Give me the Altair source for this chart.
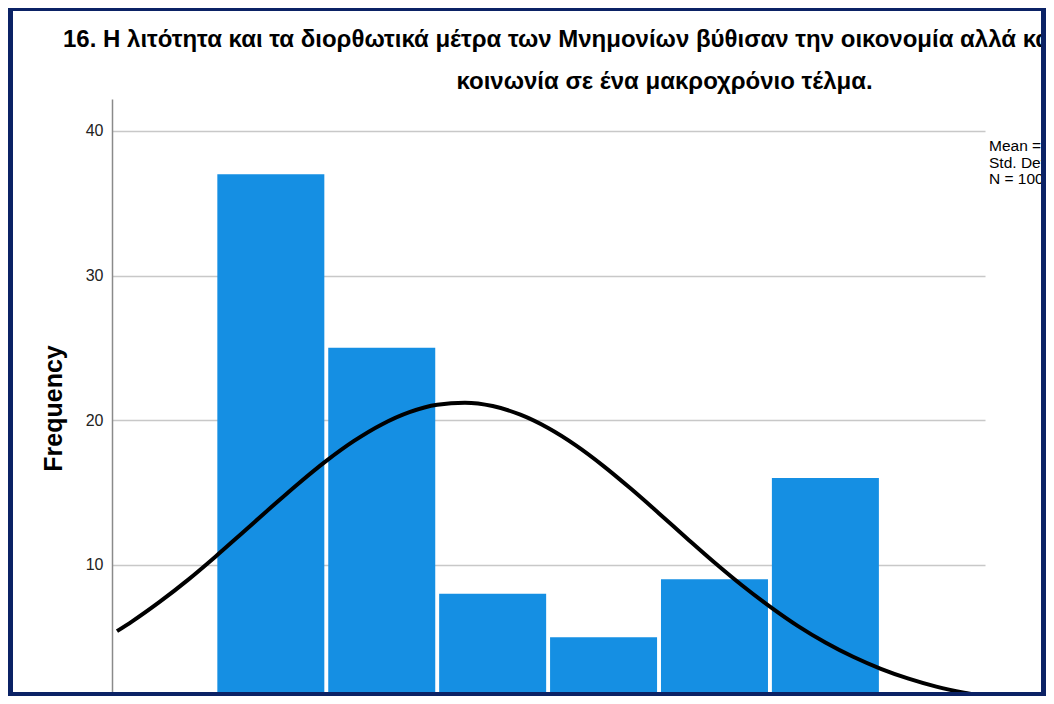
import altair as alt
import pandas as pd

# ---- data ----
categories = [1, 2, 3, 4, 5, 6]
frequencies = [37, 25, 8, 5, 9, 16]

curve_x = [-0.387, -0.25, 0, 0.25, 0.5, 0.75, 1, 1.25, 1.5, 1.75, 2, 2.25, 2.5, 2.75,
           3, 3.25, 3.5, 3.75, 4, 4.25, 4.5, 4.75, 5, 5.25, 5.5, 5.75, 6, 6.25,
           6.5, 6.75, 7, 7.25, 7.394]
curve_y = [5.42, 6.10, 7.46, 8.95, 10.57, 12.26, 13.96, 15.63, 17.19, 18.57, 19.71,
           20.56, 21.07, 21.21, 20.98, 20.38, 19.46, 18.26, 16.83, 15.24, 13.56,
           11.85, 10.17, 8.58, 7.12, 5.79, 4.64, 3.65, 2.82, 2.14, 1.59, 1.17, 0.97]

y_ticks = [10, 20, 30, 40]

title_lines = [
    "16. Η λιτότητα και τα διορθωτικά μέτρα των Μνημονίων βύθισαν την οικονομία αλλά και την",
    "κοινωνία σε ένα μακροχρόνιο τέλμα.",
]
stats_lines = ["Mean = 2.72", "Std. Dev. = 1.881", "N = 100"]

# ---- styling ----
NAVY = "#0b2265"
BAR = "#158fe3"
FONT = "Liberation Sans, Arial, sans-serif"
W, H = 873, 593
PAD = {"left": 104, "top": 91, "right": 61, "bottom": 4}

bars_df = pd.DataFrame({"value": categories, "freq": frequencies})
curve_df = pd.DataFrame({"x": curve_x, "y": curve_y})
stats_df = pd.DataFrame({"t": ["\n".join(stats_lines)]})
dummy = pd.DataFrame({"a": [0]})

xscale = alt.Scale(domain=[-0.387, 7.394], nice=False, zero=False)
yscale = alt.Scale(domain=[1.216, 42.2], nice=False, zero=False)

bars = alt.Chart(bars_df).mark_bar(size=107, color=BAR, clip=True).encode(
    x=alt.X("value:Q", scale=xscale, axis=None),
    y=alt.Y(
        "freq:Q",
        scale=yscale,
        axis=alt.Axis(
            values=y_ticks,
            grid=True,
            gridColor="#c8c8c8",
            gridWidth=1.5,
            domainColor="#8a8a8a",
            domainWidth=1.5,
            ticks=False,
            labelFontSize=16,
            labelColor="#222222",
            labelPadding=9,
            labelFont=FONT,
            title="Frequency",
            titleFont=FONT,
            titleFontSize=25,
            titleFontWeight="bold",
            titleColor="#000000",
            titleAngle=270,
            titleAlign="center",
            titleBaseline="middle",
            titleX=-59,
            titleY=309,
        ),
    ),
    y2=alt.datum(0),
)

curve = alt.Chart(curve_df).mark_line(
    color="#000000", strokeWidth=4, interpolate="monotone", clip=True
).encode(
    x=alt.X("x:Q", scale=xscale, axis=None),
    y=alt.Y("y:Q", scale=yscale),
)

stats = alt.Chart(stats_df).mark_text(
    align="left", baseline="top", lineBreak="\n", lineHeight=16.5,
    fontSize=15.5, font=FONT, color="#000000"
).encode(text="t:N", x=alt.value(877), y=alt.value(40))

title1 = alt.Chart(dummy).mark_text(
    align="left", baseline="alphabetic", fontSize=24, fontWeight="bold",
    font=FONT, color="#000000"
).encode(text=alt.value(title_lines[0]), x=alt.value(-49), y=alt.value(-52))

title2 = alt.Chart(dummy).mark_text(
    align="center", baseline="alphabetic", fontSize=24, fontWeight="bold",
    font=FONT, color="#000000"
).encode(text=alt.value(title_lines[1]), x=alt.value(552.5), y=alt.value(-10))


def strip(x0, x1, y0, y1):
    return alt.Chart(dummy).mark_rect(color=NAVY).encode(
        x=alt.value(x0), x2=alt.value(x1), y=alt.value(y0), y2=alt.value(y1)
    )


border = (
    strip(-104, 934, -91, -88)
    + strip(-104, -99, -91, 597)
    + strip(929, 934, -91, 597)
    + strip(-104, 934, 593, 597)
)

chart = (
    alt.layer(bars, curve, stats, title1, title2, border)
    .properties(
        width=W,
        height=H,
        padding=PAD,
        autosize=alt.AutoSizeParams(type="none"),
        background="#ffffff",
    )
    .configure_view(stroke=None)
)

chart.save("out.html", embed_options={"renderer": "svg", "actions": False})
